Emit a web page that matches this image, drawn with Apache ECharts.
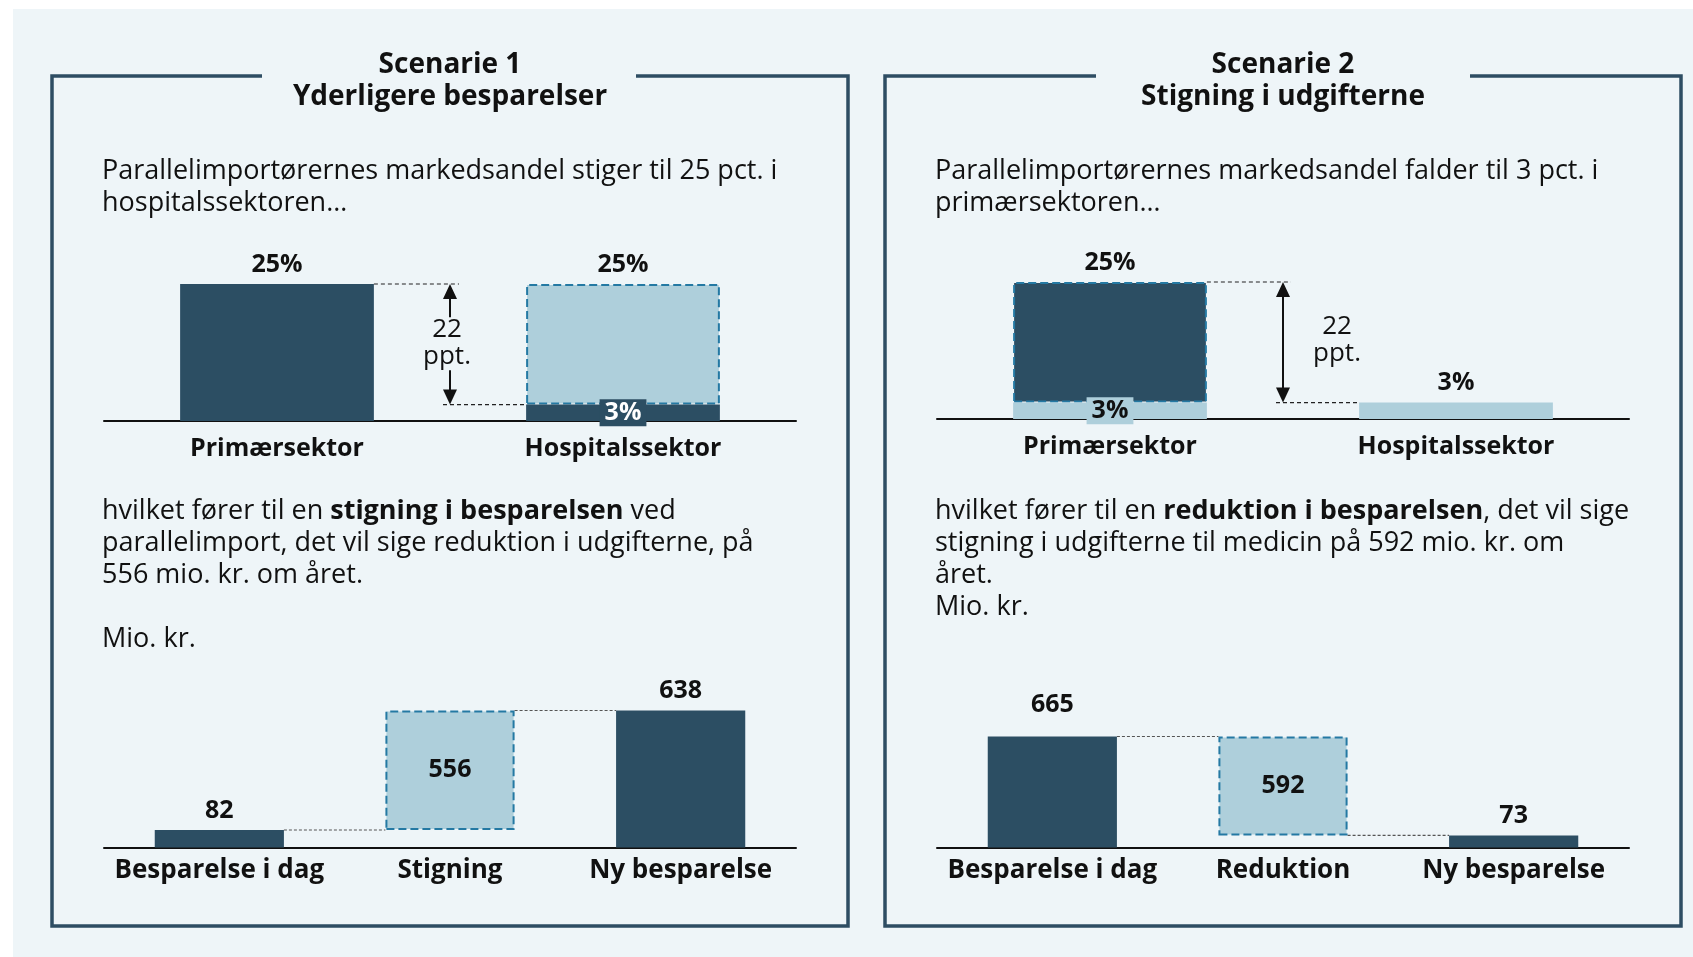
<!DOCTYPE html>
<html>
<head>
<meta charset="utf-8">
<title>Scenarie 1 og 2</title>
<script src="https://cdn.jsdelivr.net/npm/echarts@6/dist/echarts.min.js"></script>
<style>
  html, body { margin: 0; padding: 0; background: #fff; }
  #panel { position: absolute; left: 13px; top: 9px; width: 1680px; height: 948px; background: #eef5f8; }
  #main { position: absolute; left: 0; top: 0; width: 1693px; height: 957px; }
</style>
</head>
<body>
<div id="panel"></div>
<div id="main"></div>
<script>
// markedsandel i pct.
const sectors = ['Primærsektor', 'Hospitalssektor'];
const s1Now = [25, 3];
const s1Change = [null, 22];
const s2Now = [3, 3];
const s2Change = [22, null];

// besparelse, mio. kr.
const w1Cats = ['Besparelse i dag', 'Stigning', 'Ny besparelse'];
const w1Values = [82, 556, 638];
const w2Cats = ['Besparelse i dag', 'Reduktion', 'Ny besparelse'];
const w2Values = [665, 592, 73];

const DARK = '#2c4e63';
const LIGHT = '#aecfdb';
const DASH = '#2479a3';
const INK = '#111';
const FONT = '"Open Sans", "DejaVu Sans", sans-serif';

function topLabel(fmt, dist) {
    return {show: true, position: 'top', distance: dist || 7, formatter: fmt,
        color: INK, fontFamily: FONT, fontWeight: 'bold', fontSize: 25};
}

function insideLabel(bg, fg) {
    return {show: true, position: 'inside', formatter: '{c}%', color: fg, backgroundColor: bg,
        padding: [1, 5], fontFamily: FONT, fontWeight: 'bold', fontSize: 25};
}

function dashed(fill) {
    return {color: fill, borderColor: DASH, borderWidth: 2, borderType: [8, 4]};
}

// søjler for markedsandele: grundsøjle + stiplet ændring ovenpå
function shareSeries(grid, base, change, baseColor, changeColor) {
    const total = base.map((v, i) => v + (change[i] || 0));
    return [
        {
            type: 'bar', xAxisIndex: grid, yAxisIndex: grid, stack: 'g' + grid, barWidth: '56%', z: 3,
            data: base.map((v, i) => ({
                value: v,
                itemStyle: {color: baseColor},
                label: change[i] == null ? topLabel('{c}%') : insideLabel(baseColor, baseColor === DARK ? '#fff' : INK)
            }))
        },
        {
            type: 'bar', xAxisIndex: grid, yAxisIndex: grid, stack: 'g' + grid, barWidth: '56%',
            data: change.map((v, i) => v == null ? '-' : {
                value: v,
                itemStyle: dashed(changeColor),
                label: topLabel(total[i] + '%')
            })
        }
    ];
}

// vandfald: usynlig bund + synlige søjler
function waterfallSeries(grid, values, firstDist) {
    const start = values[0];
    const end = values[2];
    const low = Math.min(start, end);
    return [
        {
            type: 'bar', xAxisIndex: grid, yAxisIndex: grid, stack: 'g' + grid, barWidth: '56%',
            itemStyle: {color: 'transparent'}, silent: true,
            data: ['-', low, '-']
        },
        {
            type: 'bar', xAxisIndex: grid, yAxisIndex: grid, stack: 'g' + grid, barWidth: '56%',
            data: values.map((v, i) => i === 1 ? {
                value: v,
                itemStyle: dashed(LIGHT),
                label: {show: true, position: 'inside', color: INK, fontFamily: FONT, fontWeight: 'bold', fontSize: 25}
            } : {
                value: v,
                itemStyle: {color: DARK},
                label: topLabel('{c}', i === 0 ? firstDist : 7)
            })
        }
    ];
}

const grids = [
    {left: 104, width: 692, top: 284, height: 137},
    {left: 937, width: 692, top: 282, height: 137},
    {left: 104, width: 692, top: 710.5, height: 137.1},
    {left: 937, width: 692, top: 736.5, height: 111.1}
];
const catData = [sectors, sectors, w1Cats, w2Cats];
const maxes = [
    Math.max(...s1Now.map((v, i) => v + (s1Change[i] || 0))),
    Math.max(...s2Now.map((v, i) => v + (s2Change[i] || 0))),
    Math.max(...w1Values),
    Math.max(...w2Values)
];

const option = {
    animation: false,
    grid: grids,
    xAxis: catData.map((d, i) => ({
        type: 'category', gridIndex: i, data: d,
        axisTick: {show: false},
        axisLine: {lineStyle: {color: INK, width: 2}},
        axisLabel: {interval: 0, margin: i < 2 ? 15 : 10, color: INK, fontFamily: FONT, fontWeight: 'bold',
            fontSize: i < 2 ? 25 : 26}
    })),
    yAxis: maxes.map((m, i) => ({type: 'value', gridIndex: i, min: 0, max: m, show: false})),
    series: [
        ...shareSeries(0, s1Now, s1Change, DARK, LIGHT),
        ...shareSeries(1, s2Now, s2Change, LIGHT, DARK),
        ...waterfallSeries(2, w1Values, 7),
        ...waterfallSeries(3, w2Values, 19)
    ]
};

const myChart = echarts.init(document.getElementById('main'));
myChart.setOption(option);

function px(grid, cat, val) {
    return myChart.convertToPixel({gridIndex: grid}, [cat, val]);
}

function halfBar(grid) {
    return (px(grid, 1, 0)[0] - px(grid, 0, 0)[0]) * 0.28;
}

function dotted(x1, y1, x2, y2, color, dash) {
    return {type: 'line', z: 10, shape: {x1: x1, y1: y1, x2: x2, y2: y2},
        style: {stroke: color, lineWidth: 1.2, lineDash: dash}};
}

function shaft(x, y1, y2) {
    return {type: 'line', z: 10, shape: {x1: x, y1: y1, x2: x, y2: y2}, style: {stroke: INK, lineWidth: 2}};
}

// dir -1: spids opad, 1: spids nedad
function head(x, tipY, dir) {
    return {type: 'polygon', z: 10, shape: {points: [[x, tipY], [x - 7, tipY - dir * 15], [x + 7, tipY - dir * 15]]},
        style: {fill: INK}};
}

function text(x, y, str, size, weight, align, extra) {
    return {type: 'text', z: 10, style: Object.assign({
        x: x, y: y, text: str, fill: INK, fontFamily: FONT, fontSize: size, fontWeight: weight || 'normal',
        align: align || 'left', verticalAlign: 'middle'
    }, extra || {})};
}

const graphics = [];

// rammer med titelhul
function frame(x1, x2, gapL, gapR) {
    graphics.push({type: 'polyline', z: 10,
        shape: {points: [[gapL, 76], [x1, 76], [x1, 926], [x2, 926], [x2, 76], [gapR, 76]]},
        style: {stroke: '#2e4d63', lineWidth: 3.5, fill: null}});
}
frame(52, 848, 262, 636);
frame(885, 1681, 1096, 1470);

graphics.push(text(450, 81, 'Scenarie 1\nYderligere besparelser', 28, 'bold', 'center', {lineHeight: 32}));
graphics.push(text(1283, 81, 'Scenarie 2\nStigning i udgifterne', 28, 'bold', 'center', {lineHeight: 32}));

graphics.push(text(102, 187, 'Parallelimportørernes markedsandel stiger til 25 pct. i\nhospitalssektoren…', 27, 'normal', 'left', {lineHeight: 32}));
graphics.push(text(935, 187, 'Parallelimportørernes markedsandel falder til 3 pct. i\nprimærsektoren…', 27, 'normal', 'left', {lineHeight: 32}));

const rich = {
    r: {fontFamily: FONT, fontSize: 27, lineHeight: 32, fill: INK, color: INK},
    b: {fontFamily: FONT, fontSize: 27, fontWeight: 'bold', lineHeight: 32, fill: INK, color: INK}
};
graphics.push(text(102, 543,
    '{r|hvilket fører til en }{b|stigning i besparelsen}{r| ved}\n' +
    '{r|parallelimport, det vil sige reduktion i udgifterne, på}\n' +
    '{r|556 mio. kr. om året.}', 27, 'normal', 'left', {rich: rich}));
graphics.push(text(102, 639, 'Mio. kr.', 27));
graphics.push(text(935, 559,
    '{r|hvilket fører til en }{b|reduktion i besparelsen}{r|, det vil sige}\n' +
    '{r|stigning i udgifterne til medicin på 592 mio. kr. om}\n' +
    '{r|året.}\n{r|Mio. kr.}', 27, 'normal', 'left', {rich: rich}));

// scenarie 1: pil med tekst i midten
(function () {
    const h = halfBar(0);
    const yTop = px(0, 0, s1Now[0])[1];
    const yBot = px(0, 1, s1Now[1])[1];
    const right0 = px(0, 0, 0)[0] + h;
    const left1 = px(0, 1, 0)[0] - h;
    const x = (right0 + left1) / 2;
    const mid = (yTop + yBot) / 2;
    graphics.push(dotted(right0, yTop, x + 9, yTop, '#222', [4, 3]));
    graphics.push(dotted(x - 7, yBot, left1, yBot, '#222', [4, 3]));
    graphics.push(shaft(x, yTop + 12, mid - 27), head(x, yTop, -1));
    graphics.push(shaft(x, mid + 26, yBot - 12), head(x, yBot, 1));
    graphics.push(text(x - 3, mid - 1, s1Change[1] + '\nppt.', 26, 'normal', 'center', {lineHeight: 27}));
})();

// scenarie 2: gennemgående pil, tekst til højre
(function () {
    const h = halfBar(1);
    const yTop = px(1, 0, s2Now[0] + s2Change[0])[1];
    const yBot = px(1, 1, s2Now[1])[1];
    const right0 = px(1, 0, 0)[0] + h;
    const left1 = px(1, 1, 0)[0] - h;
    const x = (right0 + left1) / 2;
    const mid = (yTop + yBot) / 2;
    graphics.push(dotted(right0, yTop, x + 8, yTop, '#222', [4, 3]));
    graphics.push(dotted(x - 7, yBot, left1, yBot, '#222', [4, 3]));
    graphics.push(shaft(x, yTop + 12, yBot - 12), head(x, yTop, -1), head(x, yBot, 1));
    graphics.push(text(x + 54, mid - 2, s2Change[0] + '\nppt.', 26, 'normal', 'center', {lineHeight: 27}));
})();

// vandfald: forbindelseslinjer
function connectors(grid, values) {
    const h = halfBar(grid);
    const c = [0, 1, 2].map(i => px(grid, i, 0)[0]);
    const y1 = px(grid, 0, values[0])[1];
    const y2 = px(grid, 2, values[2])[1];
    graphics.push(dotted(c[0] + h, y1, c[1] - h, y1, '#555', [3, 2]));
    graphics.push(dotted(c[1] + h, y2, c[2] - h, y2, '#555', [3, 2]));
}
connectors(2, w1Values);
connectors(3, w2Values);

myChart.setOption({graphic: graphics});
</script>
</body>
</html>
